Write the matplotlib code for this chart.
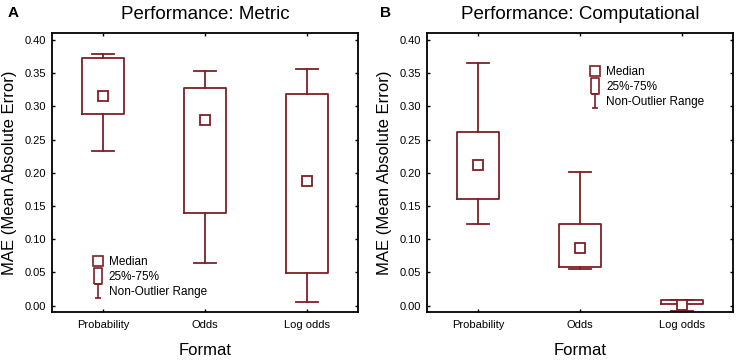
import matplotlib.pyplot as plt
from matplotlib.lines import Line2D
from matplotlib.path import Path

plt.rcParams['font.family'] = ['Liberation Sans', 'DejaVu Sans']

formats = ['Probability', 'Odds', 'Log odds']

# Panel A: Performance: Metric
metric_med = [0.315, 0.279, 0.187]
metric_q1 = [0.289, 0.139, 0.049]
metric_q3 = [0.373, 0.328, 0.319]
metric_lo = [0.233, 0.064, 0.006]
metric_hi = [0.379, 0.354, 0.356]

# Panel B: Performance: Computational
comp_med = [0.212, 0.087, 0.001]
comp_q1 = [0.160, 0.058, 0.003]
comp_q3 = [0.261, 0.123, 0.009]
comp_lo = [0.123, 0.055, -0.008]
comp_hi = [0.365, 0.201, 0.009]

red = '#7e1f27'

# custom legend markers
box_marker = Path([(-0.55, -1), (0.55, -1), (0.55, 1), (-0.55, 1), (-0.55, -1)])
whisk_marker = Path([(-0.5, 1), (0.5, 1), (0, 1), (0, -1), (-0.5, -1), (0.5, -1)],
                    [Path.MOVETO, Path.LINETO, Path.MOVETO, Path.LINETO, Path.MOVETO, Path.LINETO])


def draw_panel(ax, title, letter, letter_x, med, q1, q3, lo, hi, leg_anchor):
    stats = []
    for i in range(len(formats)):
        stats.append({'med': med[i], 'q1': q1[i], 'q3': q3[i],
                      'whislo': lo[i], 'whishi': hi[i], 'fliers': []})
    pos = [1, 2, 3]
    ax.bxp(stats, positions=pos, widths=0.41, capwidths=0.22, showfliers=False,
           boxprops=dict(color=red, linewidth=1.3),
           whiskerprops=dict(color=red, linewidth=1.3),
           capprops=dict(color=red, linewidth=1.3),
           medianprops=dict(linewidth=0))
    ax.plot(pos, med, 's', color=red, mfc='white', markersize=6.5, mew=1.3,
            linestyle='none', zorder=5)

    ax.set_xlim(0.5, 3.5)
    ax.set_ylim(-0.0095, 0.4105)
    ax.set_yticks([0.0, 0.05, 0.10, 0.15, 0.20, 0.25, 0.30, 0.35, 0.40])
    ax.set_yticklabels(['%.2f' % v for v in ax.get_yticks()])
    ax.set_xticks(pos)
    ax.set_xticklabels(formats)
    ax.tick_params(direction='in', length=2, width=1, labelsize=8, pad=4,
                   top=True, right=True)
    ax.tick_params(axis='x', pad=6)
    for s in ax.spines.values():
        s.set_linewidth(1.3)

    ax.set_title(title, fontsize=13.5, pad=10)
    ax.set_xlabel('Format', fontsize=12, labelpad=9)
    ax.set_ylabel('MAE (Mean Absolute Error)', fontsize=12, labelpad=6)
    ax.text(letter_x, 1.072, letter, transform=ax.transAxes, fontsize=11,
            fontweight='bold', va='center', ha='left')

    handles = [
        Line2D([], [], marker='s', color=red, mfc='none', markersize=7, mew=1.2, linestyle='none'),
        Line2D([], [], marker=box_marker, color=red, mfc='none', markersize=11, mew=1.2, linestyle='none'),
        Line2D([], [], marker=whisk_marker, color=red, mfc='none', markersize=10, mew=1.2, linestyle='none'),
    ]
    ax.legend(handles, ['Median', '25%-75%', 'Non-Outlier Range'], loc='upper left',
              bbox_to_anchor=leg_anchor, frameon=False, fontsize=8.5,
              handlelength=0.8, handletextpad=0.5, labelspacing=0.25, borderpad=0,
              borderaxespad=0)


fig = plt.figure(figsize=(7.37, 3.6), dpi=100)
ax1 = fig.add_axes([0.0706, 0.1333, 0.415, 0.775])
ax2 = fig.add_axes([0.5794, 0.1333, 0.415, 0.775])

draw_panel(ax1, 'Performance: Metric', 'A', -0.145, metric_med, metric_q1, metric_q3,
           metric_lo, metric_hi, (0.135, 0.2))
draw_panel(ax2, 'Performance: Computational', 'B', -0.155, comp_med, comp_q1, comp_q3,
           comp_lo, comp_hi, (0.535, 0.88))

fig.savefig('out.png', dpi=100)
